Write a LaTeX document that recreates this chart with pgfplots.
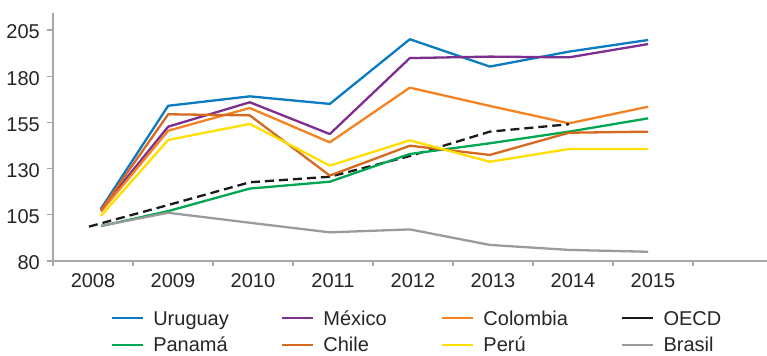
\documentclass[border=0pt]{standalone}
\usepackage{pgfplots}
\pgfplotsset{compat=1.18}
\usepackage{fontspec}
\setmainfont{Liberation Sans}

\definecolor{cUru}{HTML}{0A7BC1}
\definecolor{cMex}{HTML}{7D2E8F}
\definecolor{cCol}{HTML}{F58220}
\definecolor{cOecd}{HTML}{1A1A1A}
\definecolor{cPan}{HTML}{00A651}
\definecolor{cChi}{HTML}{D5691F}
\definecolor{cPer}{HTML}{FFDE00}
\definecolor{cBra}{HTML}{9B9B9B}
\definecolor{axgray}{HTML}{A8A8A8}
\definecolor{txt}{HTML}{262626}

% legend sample for the dashed OECD series: two short dashes
\pgfplotsset{
  dashed sample/.style={
    legend image code/.code={\path (0bp,0bp) -- (31bp,0bp);
      \draw[##1, solid] (6bp,0bp) -- (15bp,0bp);
      \draw[##1, solid] (22bp,0bp) -- (31bp,0bp);}
  }
}

\begin{document}
\begin{tikzpicture}
\begin{axis}[
  name=ax,
  scale only axis, width=714bp, height=248bp,
  xmin=2007.5, xmax=2016.425, ymin=80, ymax=214.2,
  axis x line*=bottom, axis y line*=left,
  axis line style={draw=axgray, line width=1.1bp, -},
  tick style={draw=axgray, line width=1.1bp},
  tick align=outside,
  xtick={2008,...,2015},
  minor xtick={2007.5,2008.5,...,2015.5},
  major x tick style={draw=none},
  major tick length=6bp, minor tick length=5bp,
  ytick={80,105,...,205},
  /pgf/number format/1000 sep={},
  /pgf/number format/assume math mode=true,
  ticklabel style={font=\fontsize{20bp}{22bp}\selectfont, text=txt},
  xticklabel style={anchor=north, inner sep=0pt, yshift=-6bp},
  yticklabel style={anchor=east, inner sep=0pt, xshift=-7bp, yshift=-2bp},
  clip=false,
  every axis plot/.append style={line width=2.3bp, line join=round},
  legend columns=4,
  legend image code/.code={\draw[#1] (0bp,0bp) -- (31bp,0bp);},
  legend style={
    at={(axis description cs:0.0812,-0.1863)}, anchor=north west,
    draw=none, fill=none, inner sep=0pt, outer sep=0pt,
    font=\fontsize{20bp}{22bp}\selectfont, text=txt,
    cells={anchor=west},
    nodes={inner sep=0pt, text height=18bp, text depth=3.6bp},
    row sep=5.1bp,
    /tikz/every odd column/.append style={column sep=9bp},
    /tikz/every even column/.append style={column sep=0bp},
  },
]
% Uruguay
\addplot[cUru] coordinates {(2008.10,108.3) (2008.94,164.0) (2009.96,169.1) (2010.96,165.0) (2011.96,200.0) (2012.96,185.2) (2013.95,193.3) (2014.94,199.6)};
\addlegendentry{\makebox[127.8bp][l]{Uruguay}}
% Mexico
\addplot[cMex] coordinates {(2008.10,107.8) (2008.94,152.7) (2009.96,165.9) (2010.96,148.7) (2011.96,189.8) (2012.96,190.6) (2013.95,190.2) (2014.94,197.4)};
\addlegendentry{\makebox[117.8bp][l]{México}}
% Colombia
\addplot[cCol] coordinates {(2008.10,106.7) (2008.94,150.5) (2009.96,162.8) (2010.96,144.2) (2011.96,173.8) (2012.96,163.9) (2013.95,154.5) (2014.94,163.5)};
\addlegendentry{\makebox[137.8bp][l]{Colombia}}
% OECD average
\addplot[cOecd, dash pattern=on 9bp off 5bp, dashed sample]
  coordinates {(2007.95,98.6) (2008.94,110.3) (2009.96,122.6) (2010.96,125.6) (2011.96,136.8) (2012.96,150.0) (2013.95,154.0)};
\addlegendentry{\makebox[60bp][l]{OECD}}
% Panama
\addplot[cPan] coordinates {(2008.10,98.9) (2008.94,107.0) (2009.96,119.2) (2010.96,122.9) (2011.96,137.9) (2012.96,143.7) (2013.95,150.0) (2014.94,157.2)};
\addlegendentry{Panamá}
% Chile
\addplot[cChi] coordinates {(2008.10,107.5) (2008.94,159.4) (2009.96,158.8) (2010.96,126.2) (2011.96,142.4) (2012.96,137.4) (2013.95,149.4) (2014.94,150.0)};
\addlegendentry{Chile}
% Peru
\addplot[cPer] coordinates {(2008.10,104.4) (2008.94,145.5) (2009.96,154.2) (2010.96,131.6) (2011.96,145.3) (2012.96,133.7) (2013.95,140.6) (2014.94,140.6)};
\addlegendentry{Perú}
% Brasil
\addplot[cBra] coordinates {(2008.10,99.0) (2008.94,106.1) (2009.96,100.7) (2010.96,95.5) (2011.96,97.1) (2012.96,88.7) (2013.95,86.0) (2014.94,85.0)};
\addlegendentry{Brasil}
\end{axis}
\pgfresetboundingbox
\path ([xshift=-53bp,yshift=-95bp]ax.south west) rectangle ([yshift=13bp]ax.north east);
\end{tikzpicture}
\end{document}
